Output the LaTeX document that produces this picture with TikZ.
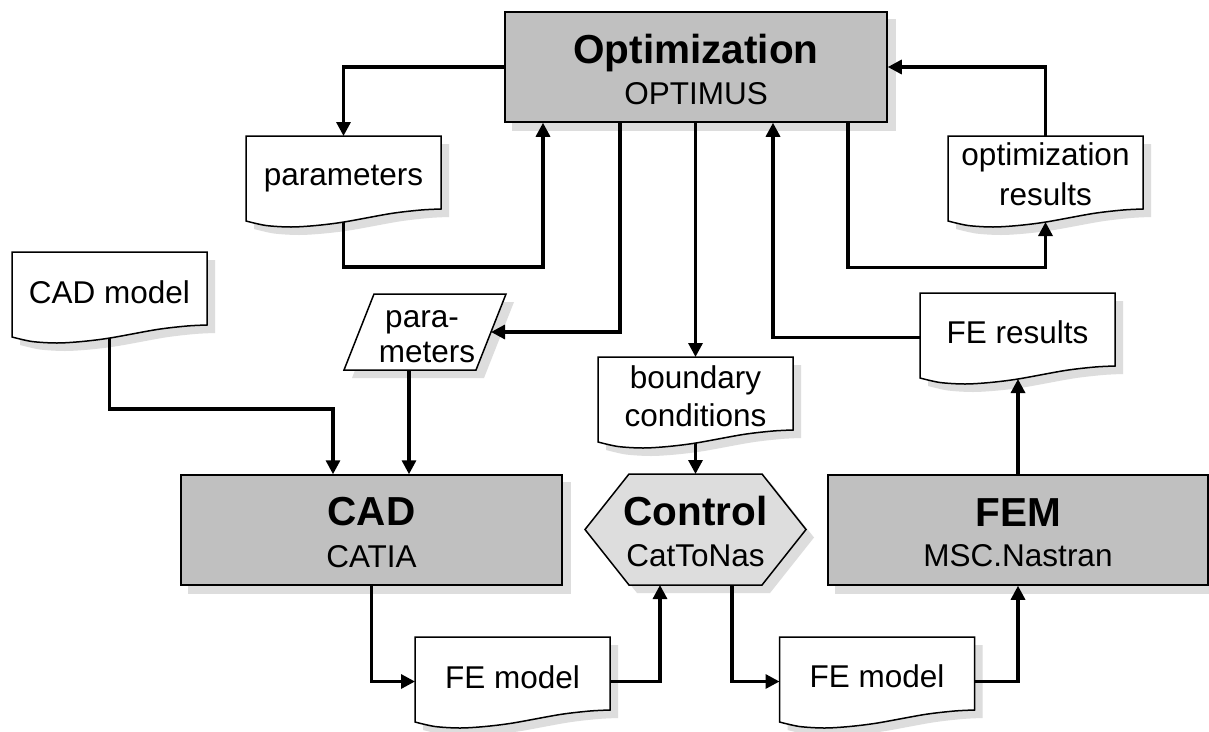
\documentclass[tikz,border=0pt]{standalone}
\usepackage{fontspec}
\setmainfont{Liberation Sans}
\usetikzlibrary{calc,arrows.meta,backgrounds}
\definecolor{boxgray}{RGB}{192,192,192}
\definecolor{hexfill}{RGB}{221,221,221}
\definecolor{shadowc}{RGB}{221,221,221}
\tikzset{
  boxnode/.style={draw, fill=boxgray, line width=1.5pt, minimum height=110pt, inner sep=0pt},
  anchornode/.style={inner sep=0pt, outer sep=0pt},
  docnode/.style={anchornode, minimum width=195pt, minimum height=73pt},
  shapeline/.style={draw, line width=1.5pt, line join=miter},
  conn/.style={line width=3.2pt, -{Triangle[length=14pt,width=14pt]}},
  txt/.style={font=\fontsize{31.5}{38}\selectfont, inner sep=0pt, anchor=base},
  ttl/.style={font=\fontsize{40.5}{48}\selectfont\bfseries, inner sep=0pt, anchor=base},
}
\begin{document}
\begin{tikzpicture}[x=1pt,y=-1pt]
\useasboundingbox (0,0) rectangle (1209,731);
% main boxes
\node[boxnode, minimum width=382pt] (opt) at (696,67) {};
\node[boxnode, minimum width=381pt] (cad) at (371.5,530) {};
\node[boxnode, minimum width=380pt] (fem) at (1018,530) {};
\node[anchornode, minimum width=221pt, minimum height=111pt] (ctrl) at (695.5,529.5) {};
\node[anchornode, minimum width=162pt, minimum height=76pt] (parm) at (425,332) {};
% documents
\node[docnode] (par1) at (343.5,172.5) {};
\node[docnode] (optres) at (1045.5,172.5) {};
\node[docnode] (cadm) at (109.5,288.5) {};
\node[docnode] (bc) at (695.5,393.5) {};
\node[docnode] (feres) at (1017.5,329.5) {};
\node[docnode] (fem1) at (512.5,673.5) {};
\node[docnode] (fem2) at (877,673.5) {};
% background: shadows and outlines
\begin{pgfonlayer}{background}
\fill[white] (0,0) rectangle (1209,731);
\foreach \n in {opt,cad,fem}{
  \fill[shadowc] ($(\n.north west)+(8,8)$) rectangle ($(\n.south east)+(8,8)$);
}
\foreach \n in {par1,optres,cadm,bc,feres,fem1,fem2}{
  \begin{scope}[shift={($(\n.north west)+(8,8)$)}]
    \fill[shadowc] (0,0) -- (195,0) -- (195,73) -- plot[smooth] coordinates {(195,73) (175,74) (145,77.5) (98,86) (70,89.5) (45,91) (20,89.5) (0,85)} -- cycle;
  \end{scope}
}
\begin{scope}[shift={($(ctrl.center)+(8,8)$)}]
  \fill[shadowc] (-110.5,0) -- (-66.5,-55.5) -- (66.5,-55.5) -- (110.5,0) -- (66.5,55.5) -- (-66.5,55.5) -- cycle;
\end{scope}
\begin{scope}[shift={($(parm.center)+(8,8)$)}]
  \fill[shadowc] (-51,-38) -- (81,-38) -- (51,38) -- (-81,38) -- cycle;
\end{scope}
\foreach \n in {par1,optres,cadm,bc,feres,fem1,fem2}{
  \begin{scope}[shift={(\n.north west)}]
    \path[shapeline, fill=white] (0,0) -- (195,0) -- (195,73) -- plot[smooth] coordinates {(195,73) (175,74) (145,77.5) (98,86) (70,89.5) (45,91) (20,89.5) (0,85)} -- cycle;
  \end{scope}
}
\begin{scope}[shift={(ctrl.center)}]
  \path[shapeline, fill=hexfill] (-110.5,0) -- (-66.5,-55.5) -- (66.5,-55.5) -- (110.5,0) -- (66.5,55.5) -- (-66.5,55.5) -- cycle;
\end{scope}
\begin{scope}[shift={(parm.center)}]
  \path[shapeline, fill=white] (-51,-38) -- (81,-38) -- (51,38) -- (-81,38) -- cycle;
\end{scope}
\end{pgfonlayer}
% texts
\node[ttl] (t1) at (696,63) {Optimization};
\node[txt] (t2) at (696,104) {OPTIMUS};
\node[ttl] (t3) at (371.5,525) {CAD};
\node[txt] (t4) at (371.5,567) {CATIA};
\node[ttl] (t5) at (695.5,525) {Control};
\node[txt] (t6) at (695.5,566) {CatToNas};
\node[ttl] (t7) at (1018,526) {FEM};
\node[txt] (t8) at (1018,566) {MSC.Nastran};
\node[txt] (t9) at (343.5,185) {parameters};
\node[txt] (t10) at (1045.5,165) {optimization};
\node[txt] (t11) at (1045.5,205) {results};
\node[txt] (t12) at (109.5,303) {CAD model};
\node[txt] (t13) at (422,327) {para-};
\node[txt] (t14) at (427,362) {meters};
\node[txt] (t15) at (695.5,388) {boundary};
\node[txt] (t16) at (695.5,426) {conditions};
\node[txt] (t17) at (1017.5,343) {FE results};
\node[txt] (t18) at (512.5,688) {FE model};
\node[txt] (t19) at (877,687) {FE model};
% connection coordinates
\coordinate (par1b) at ($(par1.south)+(0,13)$);
\coordinate (optresb) at ($(optres.south)+(0,13)$);
\coordinate (cadmb) at ($(cadm.south)+(0,13)$);
\coordinate (bcb) at ($(bc.south)+(0,13)$);
\coordinate (feresb) at ($(feres.south)+(0,13)$);
\coordinate (parmR) at ($(parm.center)+(66,0)$);
\coordinate (parmB) at ($(parm.center)+(-16,38)$);
% connectors
\draw[conn] (opt.west) -| (par1.north);
\draw[conn] (par1b) -- ++(0,45) -| ($(opt.south)+(-153,0)$);
\draw[conn] ($(opt.south)+(-76,0)$) |- (parmR);
\draw[conn] (bc.north |- opt.south) -- (bc.north);
\draw[conn] ($(feres.west)+(0,8)$) -| ($(opt.south)+(77,0)$);
\draw[conn] ($(opt.south)+(152,0)$) -- ++(0,145) -| (optresb);
\draw[conn] (optres.north) |- (opt.east);
\draw[conn] (cadmb) -- ++(0,71) -| ($(cad.north)+(-38.5,0)$);
\draw[conn] (parmB) -- (parmB |- cad.north);
\draw[conn] (bcb) -- (ctrl.north);
\draw[conn] (cad.south) |- ($(fem1.west)+(0,8)$);
\draw[conn] ($(fem1.east)+(0,8)$) -| ($(ctrl.south)+(-35.5,0)$);
\draw[conn] ($(ctrl.south)+(36.5,0)$) |- ($(fem2.west)+(0,8)$);
\draw[conn] ($(fem2.east)+(0,8)$) -| (fem.south);
\draw[conn] (fem.north) -- (fem.north |- feresb);
\end{tikzpicture}
\end{document}
